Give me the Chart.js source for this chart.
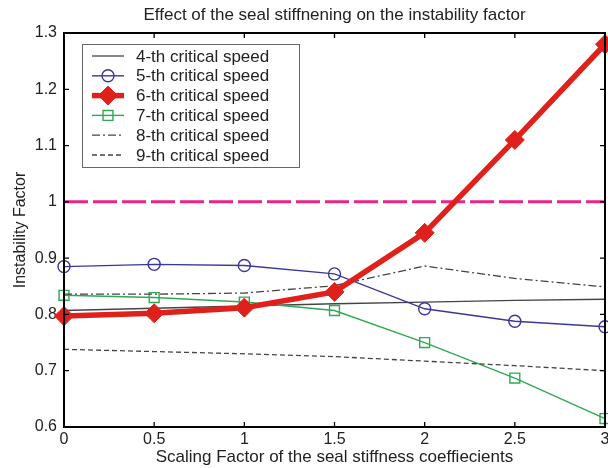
<!DOCTYPE html>
<html>
<head>
<meta charset="utf-8">
<script src="https://cdn.jsdelivr.net/npm/chart.js@4"></script>
<style>
  html, body { margin: 0; padding: 0; background: #fff; }
  canvas { display: block; }
</style>
</head>
<body>
<canvas id="chart" width="608" height="468"></canvas>
<script>
// scaling factor of the seal stiffness coefficients
const scaling = [0, 0.5, 1, 1.5, 2, 2.5, 3];
const xTicks = [0, 0.5, 1, 1.5, 2, 2.5, 3];
const xTickLabels = ['0', '0.5', '1', '1.5', '2', '2.5', '3'];
const yTicks = [0.6, 0.7, 0.8, 0.9, 1, 1.1, 1.2, 1.3];
const yTickLabels = ['0.6', '0.7', '0.8', '0.9', '1', '1.1', '1.2', '1.3'];

// instability factor for each critical speed
const speed4 = [0.807, 0.811, 0.815, 0.819, 0.822, 0.825, 0.827];
const speed5 = [0.885, 0.889, 0.887, 0.872, 0.810, 0.788, 0.778];
const speed6 = [0.797, 0.802, 0.812, 0.840, 0.945, 1.110, 1.280];
const speed7 = [0.834, 0.830, 0.822, 0.807, 0.750, 0.687, 0.615];
const speed8 = [0.836, 0.836, 0.838, 0.851, 0.886, 0.864, 0.849];
const speed9 = [0.738, 0.734, 0.730, 0.725, 0.717, 0.709, 0.700];

const limitX = [0, 3];
const limitY = [1, 1];

const FONT = "'Liberation Sans', Arial, sans-serif";
const TEXT = '#222';

const pts = (xs, ys) => xs.map((x, i) => ({ x: x, y: ys[i] }));

const datasets = [
  {
    label: '4-th critical speed', data: pts(scaling, speed4),
    borderColor: '#444', borderWidth: 1.3, pointRadius: 0, order: 6
  },
  {
    label: '5-th critical speed', data: pts(scaling, speed5),
    borderColor: '#3b3799', borderWidth: 1.4, pointStyle: 'circle', pointRadius: 6,
    pointBorderWidth: 1.4, pointBackgroundColor: 'rgba(0,0,0,0)', order: 5
  },
  {
    label: '6-th critical speed', data: pts(scaling, speed6),
    borderColor: '#e0211b', backgroundColor: '#e0211b', borderWidth: 5.5, pointStyle: 'rectRot',
    pointRadius: 9.5, pointBorderWidth: 1, pointBackgroundColor: '#e0211b', order: 1
  },
  {
    label: '7-th critical speed', data: pts(scaling, speed7),
    borderColor: '#2fa953', borderWidth: 1.4, pointStyle: 'rect', pointRadius: 7,
    pointBorderWidth: 1.4, pointBackgroundColor: 'rgba(0,0,0,0)', order: 4
  },
  {
    label: '8-th critical speed', data: pts(scaling, speed8),
    borderColor: '#444', borderWidth: 1.3, borderDash: [8, 3, 2, 3], pointRadius: 0, order: 3
  },
  {
    label: '9-th critical speed', data: pts(scaling, speed9),
    borderColor: '#444', borderWidth: 1.3, borderDash: [5, 3], pointRadius: 0, order: 2
  },
  {
    label: 'limit', data: pts(limitX, limitY), hideInLegend: true,
    borderColor: '#e8258c', borderWidth: 3, borderDash: [24, 5], pointRadius: 0, order: 7
  }
];

// let the axes run almost to the right edge like the original figure
const stretchPlugin = {
  id: 'stretch',
  afterLayout(chart) {
    const r = chart.width - 3;
    const x = chart.scales.x;
    chart.chartArea.right = r;
    chart.chartArea.width = r - chart.chartArea.left;
    x.right = r;
    x.width = r - x.left;
    x.configure();
  }
};

// matlab style frame with inward ticks
const framePlugin = {
  id: 'frame',
  afterDatasetsDraw(chart) {
    const { ctx, chartArea: a, scales } = chart;
    ctx.save();
    ctx.strokeStyle = '#000';
    ctx.lineWidth = 1.3;
    ctx.beginPath();
    xTicks.forEach(v => {
      const px = scales.x.getPixelForValue(v);
      ctx.moveTo(px, a.bottom); ctx.lineTo(px, a.bottom - 5);
      ctx.moveTo(px, a.top); ctx.lineTo(px, a.top + 5);
    });
    yTicks.forEach(v => {
      const py = scales.y.getPixelForValue(v);
      ctx.moveTo(a.left, py); ctx.lineTo(a.left + 5, py);
      ctx.moveTo(a.right, py); ctx.lineTo(a.right - 5, py);
    });
    ctx.stroke();
    ctx.lineWidth = 2;
    ctx.strokeRect(a.left, a.top, a.right - a.left, a.bottom - a.top);
    ctx.restore();
  }
};

// legend box inside the axes, upper left
const legendPlugin = {
  id: 'boxLegend',
  afterDraw(chart) {
    const { ctx } = chart;
    const items = chart.data.datasets.filter(d => !d.hideInLegend);
    const bx = 82, by = 44, bw = 217, bh = 123;
    ctx.save();
    ctx.fillStyle = '#fff';
    ctx.fillRect(bx, by, bw, bh);
    ctx.strokeStyle = '#666';
    ctx.lineWidth = 1;
    ctx.strokeRect(bx + 0.5, by + 0.5, bw, bh);
    items.forEach((d, i) => {
      const y = 56 + i * 19.8;
      ctx.strokeStyle = d.borderColor;
      ctx.lineWidth = d.borderWidth;
      ctx.setLineDash(d.borderDash || []);
      ctx.beginPath();
      ctx.moveTo(92, y); ctx.lineTo(124, y);
      ctx.stroke();
      ctx.setLineDash([]);
      if (d.pointRadius) {
        ctx.fillStyle = d.pointBackgroundColor;
        ctx.lineWidth = d.pointBorderWidth;
        Chart.helpers.drawPoint(ctx, {
          pointStyle: d.pointStyle, radius: d.pointRadius, borderWidth: d.pointBorderWidth, rotation: 0
        }, 108, y);
      }
      ctx.fillStyle = TEXT;
      ctx.font = '17px ' + FONT;
      ctx.textBaseline = 'middle';
      ctx.textAlign = 'left';
      ctx.fillText(d.label, 136, y + 1);
    });
    ctx.restore();
  }
};

const titlePlugin = {
  id: 'topTitle',
  afterDraw(chart) {
    const { ctx, chartArea: a } = chart;
    ctx.save();
    ctx.fillStyle = TEXT;
    ctx.font = '17px ' + FONT;
    ctx.textAlign = 'center';
    ctx.textBaseline = 'middle';
    ctx.fillText('Effect of the seal stiffnening on the instability factor', (a.left + a.right) / 2, 15);
    ctx.restore();
  }
};

new Chart(document.getElementById('chart'), {
  type: 'line',
  data: { datasets: datasets },
  options: {
    responsive: false,
    animation: false,
    clip: false,
    layout: { padding: { top: 33, right: 3, left: 0, bottom: 0 } },
    plugins: { legend: { display: false }, tooltip: { enabled: false } },
    elements: { line: { tension: 0 } },
    datasets: { line: { clip: false } },
    scales: {
      x: {
        type: 'linear', min: 0, max: 3,
        afterBuildTicks: s => { s.ticks = xTicks.map(v => ({ value: v })); },
        afterFit: s => { s.height = 41; },
        grid: { display: false, drawTicks: false }, border: { display: false },
        ticks: {
          font: { size: 16, family: FONT }, color: TEXT, padding: 3, maxRotation: 0,
          callback: (v) => xTickLabels[xTicks.indexOf(v)]
        },
        title: {
          display: true, text: 'Scaling Factor of the seal stiffness coeffiecients',
          font: { size: 17, family: FONT }, color: TEXT, padding: { top: 0, bottom: 0 }
        }
      },
      y: {
        type: 'linear', min: 0.6, max: 1.3,
        afterBuildTicks: s => { s.ticks = yTicks.map(v => ({ value: v })); },
        afterFit: s => { s.width = 64; },
        grid: { display: false, drawTicks: false }, border: { display: false },
        ticks: {
          font: { size: 16, family: FONT }, color: TEXT, padding: 7,
          callback: (v) => yTickLabels[yTicks.findIndex(t => Math.abs(t - v) < 1e-9)]
        },
        title: {
          display: true, text: 'Instability Factor',
          font: { size: 16, family: FONT }, color: TEXT, padding: { top: 11, bottom: 0 }
        }
      }
    }
  },
  plugins: [stretchPlugin, framePlugin, legendPlugin, titlePlugin]
});
</script>
</body>
</html>
